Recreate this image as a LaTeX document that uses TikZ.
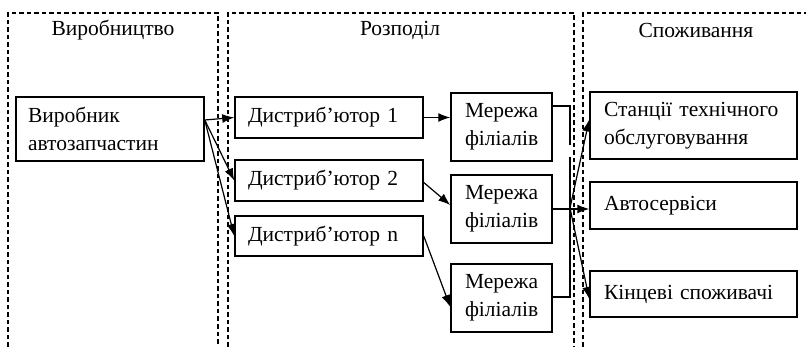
\documentclass[tikz,border=0pt]{standalone}
\usepackage{fontspec}
\setmainfont{Liberation Serif}
\usetikzlibrary{arrows.meta}
\begin{document}
\begin{tikzpicture}[x=1pt,y=-1pt,
  every node/.style={font=\fontsize{21.5}{28}\selectfont},
  box/.style={draw, line width=1.5pt, inner xsep=0pt, inner ysep=0pt, align=left, anchor=center},
  frame/.style={line width=1.5pt, dash pattern=on 4.5pt off 3pt},
  conn/.style={line width=1.2pt},
  arr/.style={conn, -{Latex[length=12pt,width=9pt]}},
  hdr/.style={anchor=center}
]
\useasboundingbox (0,0) rectangle (806,347);
% frames
\draw[frame] (8,347) -- (8,13) -- (218,13) -- (218,347);
\draw[frame] (228,347) -- (228,13) -- (574,13) -- (574,347);
\draw[frame] (583,347) -- (583,13) -- (812,13);
% headers
\node[hdr] (h1) at (113,30) {Виробництво};
\node[hdr] (h2) at (400,30) {Розподіл};
\node[hdr] (h3) at (696,30) {Споживання};
% boxes
\node[box, minimum width=188pt, minimum height=64pt, text width=164pt] (prod) at (110,129) {Виробник\\автозапчастин};
\node[box, minimum width=188pt, minimum height=41pt, text width=162pt] (d1) at (329,117.5) {Дистриб’ютор 1};
\node[box, minimum width=188pt, minimum height=41pt, text width=162pt] (d2) at (329,180.5) {Дистриб’ютор 2};
\node[box, minimum width=188pt, minimum height=40pt, text width=162pt] (dn) at (329,236) {Дистриб’ютор n};
\node[box, minimum width=101pt, minimum height=68pt, text width=73pt] (m1) at (501.5,127) {Мережа\\філіалів};
\node[box, minimum width=101pt, minimum height=68pt, text width=73pt] (m2) at (501.5,209) {Мережа\\філіалів};
\node[box, minimum width=101pt, minimum height=68pt, text width=73pt] (m3) at (501.5,298) {Мережа\\філіалів};
\node[box, minimum width=207pt, minimum height=67pt, text width=179pt] (s1) at (693.5,125.5) {Станції технічного\\обслуговування};
\node[box, minimum width=207pt, minimum height=47pt, text width=179pt] (s2) at (693.5,205.5) {Автосервіси};
\node[box, minimum width=207pt, minimum height=46pt, text width=179pt] (s3) at (693.5,294) {Кінцеві споживачі};
% coordinates
\coordinate (pe) at ([yshift=9pt]prod.east);
\coordinate (b1) at (570,106);
\coordinate (b2) at (570,145);
\coordinate (b3) at (570,157);
\coordinate (b4) at (570,297);
\coordinate (hub) at (570,208);
% connectors
\draw[arr] (pe) -- (d1.west);
\draw[arr] (pe) -- (d2.west);
\draw[arr] (pe) -- (dn.west);
\draw[arr] (d1.east) -- (d1.east -| m1.west);
\draw[arr] ([yshift=-2pt]d2.east) -- ([yshift=4pt]m2.west);
\draw[arr] (dn.east) -- ([yshift=-9pt]m3.west);
\draw[conn] (m1.east |- b1) -- (b1) -- (b2);
\draw[conn] (b3) -- (b4) -- (m3.east |- b4);
\draw[arr] (m2.east) -- (m2.east -| s2.west);
\draw[arr] (hub) -- ([yshift=6pt]s1.west);
\draw[arr] (hub) -- ([yshift=-5pt]s3.west);
\end{tikzpicture}
\end{document}
